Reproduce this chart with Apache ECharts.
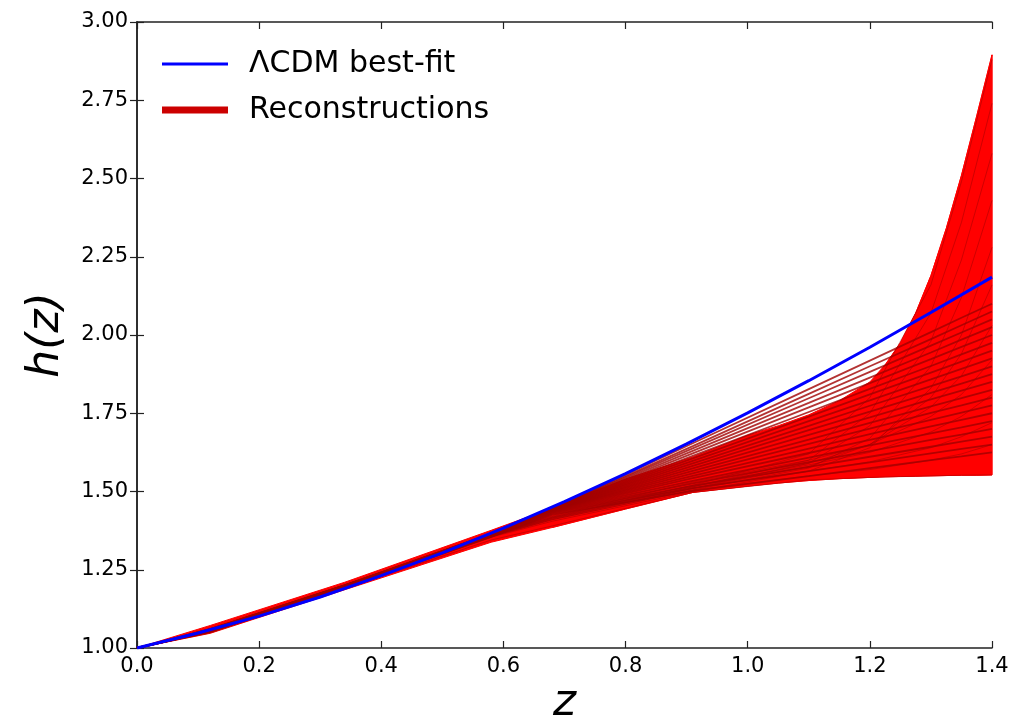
<!DOCTYPE html>
<html>
<head>
<meta charset="utf-8">
<title>h(z) reconstructions</title>
<script src="https://cdn.jsdelivr.net/npm/echarts@6/dist/echarts.min.js"></script>
<style>
  html, body { margin: 0; padding: 0; background: #fff; }
  #chart { width: 1026px; height: 727px; }
</style>
</head>
<body>
<div id="chart"></div>
<script>
// ΛCDM best-fit
var zLcdm = [0, 0.1, 0.2, 0.3, 0.4, 0.5, 0.6, 0.7, 0.8, 0.9, 1.0, 1.1, 1.2, 1.3, 1.4];
var hLcdm = [1.000, 1.048, 1.102, 1.163, 1.231, 1.304, 1.383, 1.468, 1.557, 1.652, 1.751, 1.854, 1.961, 2.072, 2.185];

// outer envelope of all reconstructions
var zEnv = [0, 0.12, 0.34, 0.58, 0.68, 0.8, 0.91, 1.0, 1.05, 1.1, 1.15, 1.2, 1.225, 1.25, 1.275, 1.3, 1.325, 1.35, 1.375, 1.4];
var envLower = [1.000, 1.047, 1.186, 1.338, 1.385, 1.444, 1.497, 1.517, 1.527, 1.535, 1.541, 1.545, 1.547, 1.548, 1.549, 1.550, 1.551, 1.552, 1.552, 1.553];
var envUpper = [1.000, 1.072, 1.210, 1.376, 1.447, 1.540, 1.610, 1.680, 1.710, 1.745, 1.790, 1.850, 1.905, 1.975, 2.070, 2.190, 2.340, 2.510, 2.700, 2.895];

// bright mass of the steeply rising reconstructions
var zMass = [0.68, 0.8, 0.91, 1.0, 1.05, 1.1, 1.15, 1.2, 1.225, 1.25, 1.275, 1.3, 1.325, 1.35, 1.375, 1.4];
var massLower = [1.385, 1.444, 1.497, 1.517, 1.527, 1.535, 1.541, 1.545, 1.547, 1.548, 1.549, 1.550, 1.551, 1.552, 1.552, 1.553];
var massUpper = [1.410, 1.490, 1.550, 1.585, 1.612, 1.655, 1.730, 1.840, 1.903, 1.975, 2.070, 2.190, 2.340, 2.510, 2.700, 2.895];

// individual reconstructions
var zRec = [0, 0.12, 0.34, 0.58, 0.68, 0.91, 1.1, 1.2, 1.3, 1.35, 1.4];
var recFan = [
  [1, 1.060, 1.200, 1.365, 1.445, 1.654, 1.827, 1.918, 2.009, 2.055, 2.100],
  [1, 1.060, 1.200, 1.365, 1.445, 1.645, 1.812, 1.900, 1.987, 2.031, 2.075],
  [1, 1.060, 1.200, 1.365, 1.445, 1.638, 1.798, 1.882, 1.966, 2.008, 2.050],
  [1, 1.059, 1.200, 1.364, 1.445, 1.630, 1.783, 1.864, 1.944, 1.985, 2.025],
  [1, 1.058, 1.199, 1.364, 1.445, 1.622, 1.769, 1.846, 1.923, 1.962, 2.000],
  [1, 1.058, 1.199, 1.364, 1.444, 1.614, 1.754, 1.828, 1.901, 1.938, 1.975],
  [1, 1.058, 1.199, 1.364, 1.444, 1.606, 1.739, 1.810, 1.880, 1.915, 1.950],
  [1, 1.057, 1.198, 1.363, 1.444, 1.598, 1.725, 1.791, 1.858, 1.892, 1.925],
  [1, 1.057, 1.198, 1.363, 1.444, 1.590, 1.710, 1.774, 1.837, 1.868, 1.900],
  [1, 1.057, 1.198, 1.362, 1.443, 1.582, 1.696, 1.755, 1.815, 1.845, 1.875],
  [1, 1.057, 1.198, 1.362, 1.443, 1.574, 1.681, 1.737, 1.794, 1.822, 1.850],
  [1, 1.056, 1.197, 1.361, 1.442, 1.566, 1.666, 1.719, 1.772, 1.798, 1.825],
  [1, 1.056, 1.197, 1.361, 1.442, 1.558, 1.652, 1.701, 1.751, 1.775, 1.800],
  [1, 1.055, 1.196, 1.360, 1.441, 1.550, 1.637, 1.683, 1.729, 1.752, 1.775],
  [1, 1.055, 1.196, 1.360, 1.440, 1.543, 1.623, 1.665, 1.708, 1.729, 1.750],
  [1, 1.054, 1.195, 1.359, 1.438, 1.534, 1.608, 1.647, 1.686, 1.705, 1.725],
  [1, 1.054, 1.195, 1.358, 1.436, 1.526, 1.594, 1.629, 1.665, 1.682, 1.700],
  [1, 1.053, 1.194, 1.357, 1.433, 1.518, 1.579, 1.611, 1.643, 1.659, 1.675],
  [1, 1.053, 1.194, 1.356, 1.430, 1.511, 1.565, 1.593, 1.622, 1.636, 1.650],
  [1, 1.052, 1.193, 1.355, 1.426, 1.502, 1.549, 1.575, 1.600, 1.612, 1.625]
];
var recRise = [
  [1, 1.062, 1.200, 1.362, 1.420, 1.520, 1.620, 1.800, 2.160, 2.490, 2.880],
  [1, 1.058, 1.198, 1.360, 1.418, 1.515, 1.600, 1.750, 2.070, 2.360, 2.740],
  [1, 1.055, 1.196, 1.358, 1.415, 1.510, 1.590, 1.710, 1.980, 2.240, 2.580],
  [1, 1.052, 1.194, 1.356, 1.410, 1.505, 1.575, 1.670, 1.900, 2.120, 2.430],
  [1, 1.050, 1.192, 1.354, 1.405, 1.500, 1.565, 1.640, 1.830, 2.000, 2.280],
  [1, 1.053, 1.195, 1.357, 1.412, 1.510, 1.580, 1.650, 1.800, 1.940, 2.160],
  [1, 1.056, 1.197, 1.359, 1.416, 1.515, 1.590, 1.650, 1.770, 1.870, 2.030],
  [1, 1.060, 1.200, 1.362, 1.422, 1.530, 1.600, 1.650, 1.740, 1.810, 1.920],
  [1, 1.058, 1.198, 1.360, 1.418, 1.520, 1.585, 1.625, 1.690, 1.740, 1.810],
  [1, 1.055, 1.196, 1.358, 1.414, 1.510, 1.565, 1.595, 1.640, 1.675, 1.720],
  [1, 1.052, 1.194, 1.356, 1.410, 1.505, 1.550, 1.570, 1.600, 1.620, 1.650],
  [1, 1.048, 1.190, 1.345, 1.390, 1.497, 1.537, 1.545, 1.550, 1.552, 1.553]
];

function pairs(xs, ys) {
  return xs.map(function (x, i) { return [x, ys[i]]; });
}

// 用上、下边界围成多边形
function bandSeries(name, zs, lower, upper, fill, opacity) {
  return {
    name: name, type: 'custom', silent: true,
    data: [0],
    renderItem: function (params, api) {
      var pts = [];
      zs.forEach(function (z, i) { pts.push(api.coord([z, upper[i]])); });
      for (var i = zs.length - 1; i >= 0; i--) { pts.push(api.coord([zs[i], lower[i]])); }
      return {
        type: 'polygon', shape: { points: pts },
        style: { fill: fill, stroke: fill, lineWidth: 1, opacity: opacity }
      };
    }
  };
}

var myChart = echarts.init(document.getElementById('chart'));

var series = [];
series.push(bandSeries('envBand', zEnv, envLower, envUpper, '#ff0000', 1));
recFan.forEach(function (ys, k) {
  series.push({
    name: 'fan' + k, type: 'line', symbol: 'none', silent: true,
    lineStyle: { width: 1.8, color: '#a00000', opacity: 0.8 },
    data: pairs(zRec, ys)
  });
});
series.push(bandSeries('massBand', zMass, massLower, massUpper, '#ff0000', 0.85));
recRise.forEach(function (ys, k) {
  series.push({
    name: 'rise' + k, type: 'line', symbol: 'none', silent: true,
    lineStyle: { width: 1, color: '#a00000', opacity: 0.5 },
    data: pairs(zRec, ys)
  });
});
series.push({
  name: 'ΛCDM best-fit', type: 'line', symbol: 'none', z: 10,
  lineStyle: { width: 3, color: '#0000ff' },
  itemStyle: { color: '#0000ff' },
  data: pairs(zLcdm, hLcdm)
});
// legend entry only
series.push({
  name: 'Reconstructions', type: 'line', symbol: 'none', data: [],
  lineStyle: { width: 7, color: '#cc0000' }, itemStyle: { color: '#cc0000' }
});

var tickFont = { fontFamily: 'DejaVu Sans', fontSize: 21, color: '#000' };

var option = {
  animation: false,
  backgroundColor: '#fff',
  grid: { left: 137, right: 34, top: 22, bottom: 79, outerBoundsMode: 'none' },
  legend: {
    left: 157, top: 42, orient: 'vertical',
    itemWidth: 66, itemHeight: 14, itemGap: 12,
    textStyle: { fontFamily: 'DejaVu Sans', fontSize: 30, color: '#000', lineHeight: 34, padding: [0, 0, 0, 16] },
    data: [
      { name: 'ΛCDM best-fit', icon: 'path://M0,0 L66,0 L66,3 L0,3 Z', itemStyle: { color: '#0000ff' } },
      { name: 'Reconstructions', icon: 'path://M0,0 L66,0 L66,7 L0,7 Z', itemStyle: { color: '#cc0000' } }
    ]
  },
  xAxis: [{
    type: 'value', min: 0, max: 1.4, interval: 0.2,
    name: 'z', nameLocation: 'middle', nameGap: 31,
    nameTextStyle: { fontFamily: 'DejaVu Sans', fontStyle: 'italic', fontSize: 44, color: '#000' },
    axisLine: { lineStyle: { color: '#222', width: 1.5 } },
    axisTick: { inside: true, length: 7, lineStyle: { color: '#222', width: 1.2 } },
    axisLabel: Object.assign({ margin: 8, formatter: function (v) { return v.toFixed(1); } }, tickFont),
    splitLine: { show: false }
  }, {
    type: 'value', min: 0, max: 1.4, interval: 0.2, position: 'top',
    axisLine: { lineStyle: { color: '#222', width: 1.5 } },
    axisTick: { inside: true, length: 7, lineStyle: { color: '#222', width: 1.2 } },
    axisLabel: { show: false },
    splitLine: { show: false }
  }],
  yAxis: [{
    type: 'value', min: 1, max: 3, interval: 0.25,
    name: 'h(z)', nameLocation: 'middle', nameGap: 68,
    nameTextStyle: { fontFamily: 'DejaVu Sans', fontStyle: 'italic', fontSize: 44, color: '#000' },
    axisLine: { show: true, lineStyle: { color: '#222', width: 1.5 } },
    axisTick: { show: true, inside: true, length: 7, lineStyle: { color: '#222', width: 1.2 } },
    axisLabel: Object.assign({ margin: 9, formatter: function (v) { return v.toFixed(2); } }, tickFont),
    splitLine: { show: false }
  }, {
    type: 'value', min: 1, max: 3, interval: 0.25, position: 'right',
    axisLine: { show: true, lineStyle: { color: '#222', width: 1.5 } },
    axisTick: { show: true, inside: true, length: 7, lineStyle: { color: '#222', width: 1.2 } },
    axisLabel: { show: false },
    splitLine: { show: false }
  }],
  series: series
};

myChart.setOption(option);
</script>
</body>
</html>
